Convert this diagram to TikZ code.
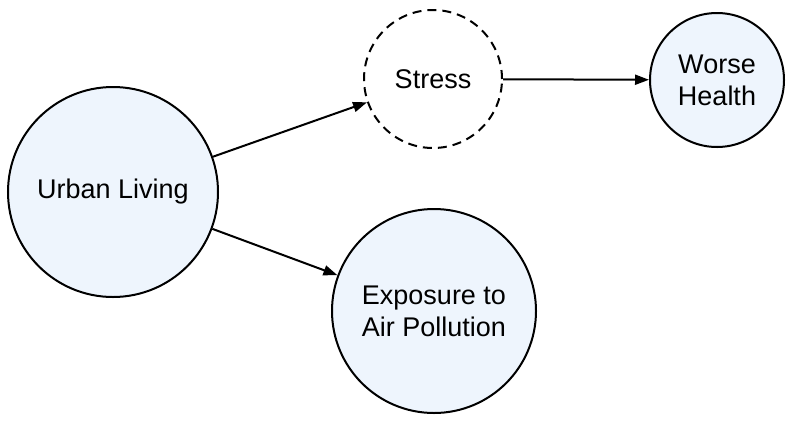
\documentclass[tikz,border=0pt]{standalone}
\usepackage{fontspec}
\setmainfont{Liberation Sans}
\usetikzlibrary{arrows.meta}
\definecolor{nodefill}{HTML}{EEF5FD}
\begin{document}
\begin{tikzpicture}[x=1pt,y=-1pt,
  nd/.style={circle,draw,line width=2pt,fill=nodefill,inner sep=0pt,align=center,font=\fontsize{27}{32}\selectfont},
  ar/.style={-{Triangle[length=14pt,width=10pt]},line width=2pt}]
\useasboundingbox (0,0) rectangle (800,424);
\node[nd,minimum size=210pt] (u) at (113,192) {Urban Living};
\node[nd,minimum size=138pt,fill=white,dashed,dash pattern=on 9pt off 6pt] (s) at (433,79) {Stress};
\node[nd,minimum size=134pt] (w) at (717,80) {Worse\\Health};
\node[nd,minimum size=204pt] (e) at (434,311) {Exposure to\\Air Pollution};
\draw[ar] (u) -- (s);
\draw[ar] (u) -- (e);
\draw[ar] (s) -- (w);
\end{tikzpicture}
\end{document}
